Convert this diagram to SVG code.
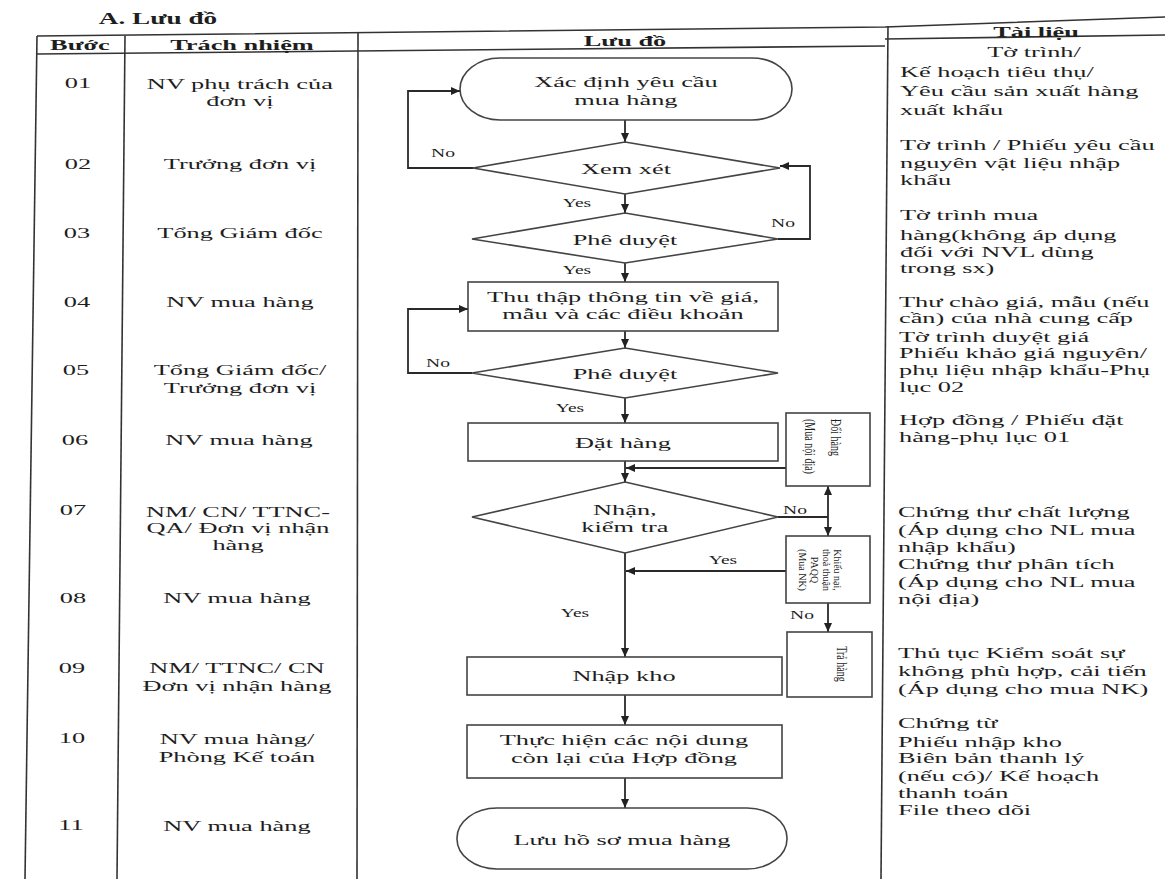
<svg xmlns="http://www.w3.org/2000/svg" width="1165" height="879" viewBox="0 0 1165 879">
<style>
text { font-family: "Liberation Serif", "Times New Roman", serif; fill: #1e1e1e; }
.c { text-anchor: middle; transform-box: fill-box; transform-origin: center; transform: scaleX(1.7); font-size: 15.5px; }
.l { text-anchor: start; transform-box: fill-box; transform-origin: left center; transform: scaleX(1.7); font-size: 15.5px; }
.b { font-weight: bold; }
.s { font-size: 11.5px; }
.r { font-size: 10px; dominant-baseline: central; }
.box { fill: #fff; stroke: #444; stroke-width: 1.6; }
.grid { stroke: #333; stroke-width: 1.6; fill: none; }
.conn { stroke: #2a2a2a; stroke-width: 1.8; fill: none; }
.arr { marker-end: url(#ah); }
</style>
<defs>
<marker id="ah" viewBox="0 0 10 10" refX="10" refY="5" markerWidth="9" markerHeight="8" markerUnits="userSpaceOnUse" orient="auto-start-reverse" preserveAspectRatio="none"><path d="M0,0 L10,5 L0,10 z" fill="#222"/></marker>
</defs>
<rect width="1165" height="879" fill="#fff"/>

<g id="table">
<text class="c b" x="158" y="24" style="font-size:16px">A. Lưu đồ</text>
<path class="grid" d="M37,36 L885,27 L1165,17"/>
<path class="grid" d="M37,54 L885,46"/>
<path class="grid" d="M885,39 L1165,35"/>
<path class="grid" d="M37,36 L25,879"/>
<path class="grid" d="M125,36 L117,879"/>
<path class="grid" d="M358,33 L357,879"/>
<path class="grid" d="M888,26 L881,879"/>
<text class="c b" x="80" y="50">Bước</text>
<text class="c b" x="242" y="50">Trách nhiệm</text>
<text class="c b" x="625" y="46">Lưu đồ</text>
<text class="c b" x="1036" y="37">Tài liệu</text>
</g>

<g id="steps">
<text class="c" x="78" y="88">01</text>
<text class="c" x="78" y="169">02</text>
<text class="c" x="77" y="238">03</text>
<text class="c" x="77" y="307">04</text>
<text class="c" x="76" y="375">05</text>
<text class="c" x="75" y="445">06</text>
<text class="c" x="73" y="515">07</text>
<text class="c" x="73" y="603">08</text>
<text class="c" x="72" y="673">09</text>
<text class="c" x="72" y="743">10</text>
<text class="c" x="71" y="830">11</text>
</g>

<g id="responsibility">
<text class="c" x="240" y="89">NV phụ trách của<tspan x="240" y="106">đơn vị</tspan></text>
<text class="c" x="240" y="169">Trưởng đơn vị</text>
<text class="c" x="240" y="238">Tổng Giám đốc</text>
<text class="c" x="240" y="307">NV mua hàng</text>
<text class="c" x="240" y="375">Tổng Giám đốc/<tspan x="240" y="393">Trưởng đơn vị</tspan></text>
<text class="c" x="239" y="445">NV mua hàng</text>
<text class="c" x="238" y="517">NM/ CN/ TTNC-<tspan x="238" y="533">QA/ Đơn vị nhận</tspan><tspan x="238" y="550">hàng</tspan></text>
<text class="c" x="237" y="603">NV mua hàng</text>
<text class="c" x="237" y="673">NM/ TTNC/ CN<tspan x="237" y="691">Đơn vị nhận hàng</tspan></text>
<text class="c" x="237" y="744">NV mua hàng/<tspan x="237" y="762">Phòng Kế toán</tspan></text>
<text class="c" x="237" y="831">NV mua hàng</text>
</g>

<g id="documents">
<text class="c" x="1034" y="57">Tờ trình/</text>
<text class="l" x="900" y="77">Kế hoạch tiêu thụ/<tspan x="900" y="96">Yêu cầu sản xuất hàng</tspan><tspan x="900" y="115">xuất khẩu</tspan></text>
<text class="l" x="900" y="150">Tờ trình / Phiếu yêu cầu<tspan x="900" y="168">nguyên vật liệu nhập</tspan><tspan x="900" y="185">khẩu</tspan></text>
<text class="l" x="900" y="220">Tờ trình mua<tspan x="900" y="240">hàng(không áp dụng</tspan><tspan x="900" y="257">đối với NVL dùng</tspan><tspan x="900" y="273">trong sx)</tspan></text>
<text class="l" x="899" y="307">Thư chào giá, mẫu (nếu<tspan x="899" y="323">cần) của nhà cung cấp</tspan><tspan x="899" y="342">Tờ trình duyệt giá</tspan><tspan x="899" y="358">Phiếu khảo giá nguyên/</tspan><tspan x="899" y="375">phụ liệu nhập khẩu-Phụ</tspan><tspan x="899" y="392">lục 02</tspan></text>
<text class="l" x="899" y="425">Hợp đồng / Phiếu đặt<tspan x="899" y="442">hàng-phụ lục 01</tspan></text>
<text class="l" x="898" y="517">Chứng thư chất lượng<tspan x="898" y="535">(Áp dụng cho NL mua</tspan><tspan x="898" y="552">nhập khẩu)</tspan><tspan x="898" y="569">Chứng thư phân tích</tspan><tspan x="898" y="587">(Áp dụng cho NL mua</tspan><tspan x="898" y="604">nội địa)</tspan></text>
<text class="l" x="898" y="658">Thủ tục Kiểm soát sự<tspan x="898" y="676">không phù hợp, cải tiến</tspan><tspan x="898" y="694">(Áp dụng cho mua NK)</tspan></text>
<text class="l" x="898" y="728">Chứng từ<tspan x="898" y="747">Phiếu nhập kho</tspan><tspan x="898" y="763">Biên bản thanh lý</tspan><tspan x="898" y="781">(nếu có)/ Kế hoạch</tspan><tspan x="898" y="798">thanh toán</tspan><tspan x="898" y="815">File theo dõi</tspan></text>
</g>

<g id="connectors">
<path class="conn arr" d="M625,120 L625,142"/>
<path class="conn arr" d="M625,194 L625,213"/>
<path class="conn arr" d="M473,168 L408,168 L408,91 L460,91"/>
<path class="conn arr" d="M778,239 L810,239 L810,166 L780,166"/>
<path class="conn arr" d="M625,263 L625,282"/>
<path class="conn arr" d="M625,331 L625,348"/>
<path class="conn arr" d="M472,373 L408,373 L408,309 L468,309"/>
<path class="conn arr" d="M625,398 L625,423"/>
<path class="conn arr" d="M625,461 L625,482"/>
<path class="conn arr" d="M786,468 L626,468"/>
<path class="conn" d="M778,517 L828,517"/>
<path class="conn arr" d="M828,517 L828,486" />
<path class="conn arr" d="M828,517 L828,536" />
<path class="conn arr" d="M786,571 L626,571"/>
<path class="conn arr" d="M625,553 L625,657"/>
<path class="conn arr" d="M828,603 L828,632"/>
<path class="conn arr" d="M625,695 L625,725"/>
<path class="conn arr" d="M625,778 L625,808"/>
<text class="c s" x="443" y="157">No</text>
<text class="c s" x="783" y="227">No</text>
<text class="c s" x="577" y="207">Yes</text>
<text class="c s" x="577" y="274">Yes</text>
<text class="c s" x="438" y="367">No</text>
<text class="c s" x="570" y="412">Yes</text>
<text class="c s" x="795" y="514">No</text>
<text class="c s" x="723" y="564">Yes</text>
<text class="c s" x="575" y="617">Yes</text>
<text class="c s" x="802" y="619">No</text>
</g>

<g id="n01">
<rect class="box" x="460" y="58" width="332" height="62" rx="40" ry="31"/>
<text class="c" x="626" y="87">Xác định yêu cầu<tspan x="626" y="105">mua hàng</tspan></text>
</g>
<g id="n02">
<polygon class="box" points="625,142 780,168 625,194 473,168"/>
<text class="c" x="626" y="174">Xem xét</text>
</g>
<g id="n03">
<polygon class="box" points="625,213 778,239 625,263 472,239"/>
<text class="c" x="625" y="245">Phê duyệt</text>
</g>
<g id="n04">
<rect class="box" x="468" y="282" width="310" height="49"/>
<text class="c" x="623" y="302">Thu thập thông tin về giá,<tspan x="623" y="319">mẫu và các điều khoản</tspan></text>
</g>
<g id="n05">
<polygon class="box" points="625,348 778,373 625,398 472,373"/>
<text class="c" x="625" y="379">Phê duyệt</text>
</g>
<g id="n06">
<rect class="box" x="468" y="423" width="310" height="38"/>
<text class="c" x="623" y="448">Đặt hàng</text>
</g>
<g id="n07">
<polygon class="box" points="625,482 778,517 625,553 472,517"/>
<text class="c" x="625" y="515">Nhận,<tspan x="625" y="532">kiểm tra</tspan></text>
</g>
<g id="s01">
<rect class="box" x="786" y="413" width="84" height="73"/>
<text class="r" transform="translate(836 419) rotate(90) scale(1 1.5)">Đổi hàng</text>
<text class="r" transform="translate(810 419) rotate(90) scale(1 1.5)">(Mua nội địa)</text>
</g>
<g id="s02">
<rect class="box" x="786" y="536" width="84" height="67"/>
<text class="r" text-anchor="middle" transform="translate(838 570) rotate(90) scale(1 1.1)">Khiếu nại,</text>
<text class="r" text-anchor="middle" transform="translate(826.5 570) rotate(90) scale(1 1.1)">thoả thuận</text>
<text class="r" text-anchor="middle" transform="translate(815 570) rotate(90) scale(1 1.1)">PAQQ</text>
<text class="r" text-anchor="middle" transform="translate(803 570) rotate(90) scale(1 1.1)">(Mua NK)</text>
</g>
<g id="s03">
<rect class="box" x="787" y="632" width="85" height="65"/>
<text class="r" text-anchor="middle" transform="translate(842 664) rotate(90) scale(1 1.5)">Trả hàng</text>
</g>
<g id="n08">
<rect class="box" x="467" y="657" width="315" height="38"/>
<text class="c" x="624" y="681">Nhập kho</text>
</g>
<g id="n09">
<rect class="box" x="467" y="725" width="315" height="53"/>
<text class="c" x="624" y="745">Thực hiện các nội dung<tspan x="624" y="763">còn lại của Hợp đồng</tspan></text>
</g>
<g id="n10">
<rect class="box" x="457" y="808" width="330" height="61" rx="40" ry="30"/>
<text class="c" x="622" y="845">Lưu hồ sơ mua hàng</text>
</g>
</svg>
